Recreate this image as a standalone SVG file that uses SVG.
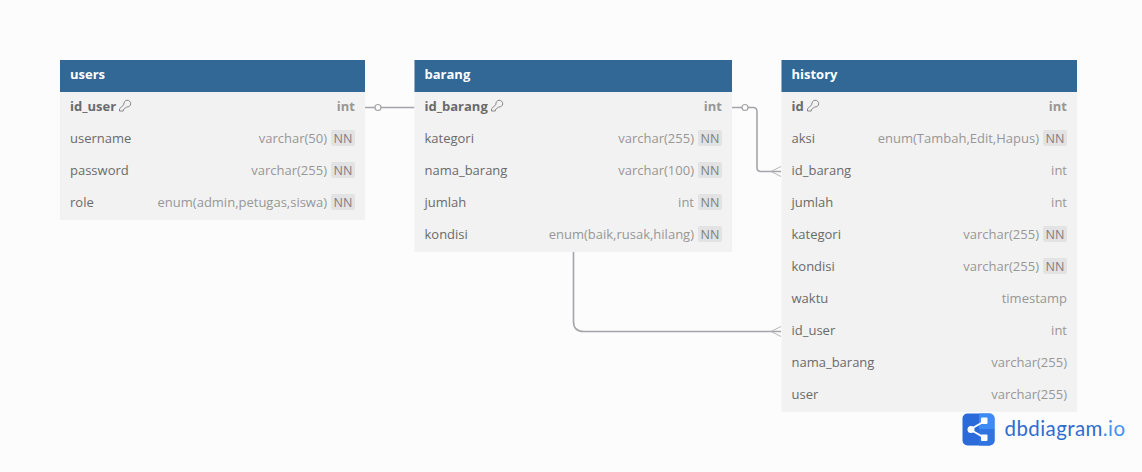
<svg xmlns="http://www.w3.org/2000/svg" width="1142" height="472" viewBox="0 0 1142 472">
<style>
text{font-family:"Open Sans","Noto Sans",sans-serif;font-size:13px}
.b{fill:#f2f2f2}
.h{fill:#316896}
.t{fill:#fff;font-weight:700}
.n{fill:#6a6a6a}
.pk{fill:#6a6a6a;font-weight:700}
.y{fill:#979797;text-anchor:end}
.yk{fill:#979797;text-anchor:end;font-weight:700}
.nn{fill:#e3e3e3}
.nt{fill:#7e7e7e;text-anchor:middle;font-size:12.5px}
.c{fill:none;stroke:#a4a4aa;stroke-width:1.6}
.cr{fill:none;stroke:#b4b4ba;stroke-width:1}
.o{fill:#fcfcfc;stroke:#a4a4aa;stroke-width:1.2}
.k{fill:none;stroke:#7a7a7a;stroke-width:.9}
</style>
<defs>
<g id="key"><path class="k" d="M-5 5L-5 2.800L-.5 -1.500A3.400 3.400 0 1 1 2.200 1L-1.200 3.600L-1.200 5L-3 5Z"/></g>
<g id="nnb"><rect class="nn" x="-24" y="-9" width="24" height="16" rx="2"/><text class="nt" x="-12" y="4">NN</text></g>
</defs>
<rect width="1142" height="472" fill="#fcfcfc"/>
<g id="connectors">
<path class="c" d="M365 107.500H414.500"/>
<circle class="o" cx="378" cy="107.500" r="3"/>
<path class="c" d="M732 107.500H753Q757 107.500 757 111.500V167.500Q757 171.500 761 171.500H781"/>
<circle class="o" cx="745" cy="107.500" r="3"/>
<path class="cr" d="M781 166.500L771 171.500L781 176.500"/>
<path class="c" d="M573.500 252V321.500Q573.500 331.500 583.500 331.500H781"/>
<path class="cr" d="M781 326.500L771 331.500L781 336.500"/>
</g>
<g id="users">
<rect class="b" x="60" y="60" width="305" height="160"/>
<rect class="h" x="60" y="60" width="305" height="32"/>
<text class="t" x="70" y="79">users</text>
<text class="pk" x="70" y="111">id_user</text><use href="#key" x="124.500" y="106"/><text class="yk" x="355" y="111">int</text>
<text class="n" x="70" y="143">username</text><text class="y" x="327" y="143">varchar(50)</text><use href="#nnb" x="355" y="139"/>
<text class="n" x="70" y="175">password</text><text class="y" x="327" y="175">varchar(255)</text><use href="#nnb" x="355" y="171"/>
<text class="n" x="70" y="207">role</text><text class="y" x="327" y="207">enum(admin,petugas,siswa)</text><use href="#nnb" x="355" y="203"/>
</g>
<g id="barang">
<rect class="b" x="414.500" y="60" width="317.500" height="192"/>
<rect class="h" x="414.500" y="60" width="317.500" height="32"/>
<text class="t" x="424.500" y="79">barang</text>
<text class="pk" x="424.500" y="111">id_barang</text><use href="#key" x="496.500" y="106"/><text class="yk" x="722" y="111">int</text>
<text class="n" x="424.500" y="143">kategori</text><text class="y" x="694" y="143">varchar(255)</text><use href="#nnb" x="722" y="139"/>
<text class="n" x="424.500" y="175">nama_barang</text><text class="y" x="694" y="175">varchar(100)</text><use href="#nnb" x="722" y="171"/>
<text class="n" x="424.500" y="207">jumlah</text><text class="y" x="694" y="207">int</text><use href="#nnb" x="722" y="203"/>
<text class="n" x="424.500" y="239">kondisi</text><text class="y" x="694" y="239">enum(baik,rusak,hilang)</text><use href="#nnb" x="722" y="235"/>
</g>
<g id="history">
<rect class="b" x="781.500" y="60" width="295.500" height="352"/>
<rect class="h" x="781.500" y="60" width="295.500" height="32"/>
<text class="t" x="791.500" y="79">history</text>
<text class="pk" x="791.500" y="111">id</text><use href="#key" x="812.500" y="106"/><text class="yk" x="1067" y="111">int</text>
<text class="n" x="791.500" y="143">aksi</text><text class="y" x="1039" y="143">enum(Tambah,Edit,Hapus)</text><use href="#nnb" x="1067" y="139"/>
<text class="n" x="791.500" y="175">id_barang</text><text class="y" x="1067" y="175">int</text>
<text class="n" x="791.500" y="207">jumlah</text><text class="y" x="1067" y="207">int</text>
<text class="n" x="791.500" y="239">kategori</text><text class="y" x="1039" y="239">varchar(255)</text><use href="#nnb" x="1067" y="235"/>
<text class="n" x="791.500" y="271">kondisi</text><text class="y" x="1039" y="271">varchar(255)</text><use href="#nnb" x="1067" y="267"/>
<text class="n" x="791.500" y="303">waktu</text><text class="y" x="1067" y="303">timestamp</text>
<text class="n" x="791.500" y="335">id_user</text><text class="y" x="1067" y="335">int</text>
<text class="n" x="791.500" y="367">nama_barang</text><text class="y" x="1067" y="367">varchar(255)</text>
<text class="n" x="791.500" y="399">user</text><text class="y" x="1067" y="399">varchar(255)</text>
</g>
<g id="logo">
<rect x="962.500" y="413.500" width="32" height="32" rx="5" fill="#2a6ad9"/>
<path d="M979 413.500H989.500a5 5 0 0 1 5 5V429H979Z" fill="#3d8bf5"/>
<path d="M979 429H994.500V440.500a5 5 0 0 1-5 5H979Z" fill="#2f74e0"/>
<path d="M970 429.500L984 421.500M970 429.500L984 437.500" stroke="#fff" stroke-width="2" fill="none"/>
<circle cx="971" cy="429.500" r="3.500" fill="#fff"/>
<rect x="981" y="417.500" width="6.500" height="6.500" rx="1" fill="#fff"/>
<rect x="981" y="434.500" width="6.500" height="6.500" rx="1" fill="#fff"/>
<text x="1004.500" y="436" style="font-family:'Lato','Noto Sans',sans-serif;font-size:20.500px;letter-spacing:.42px" fill="#2f6cd0">dbdiagram<tspan fill="#4a90f0">.io</tspan></text>
</g>
</svg>
